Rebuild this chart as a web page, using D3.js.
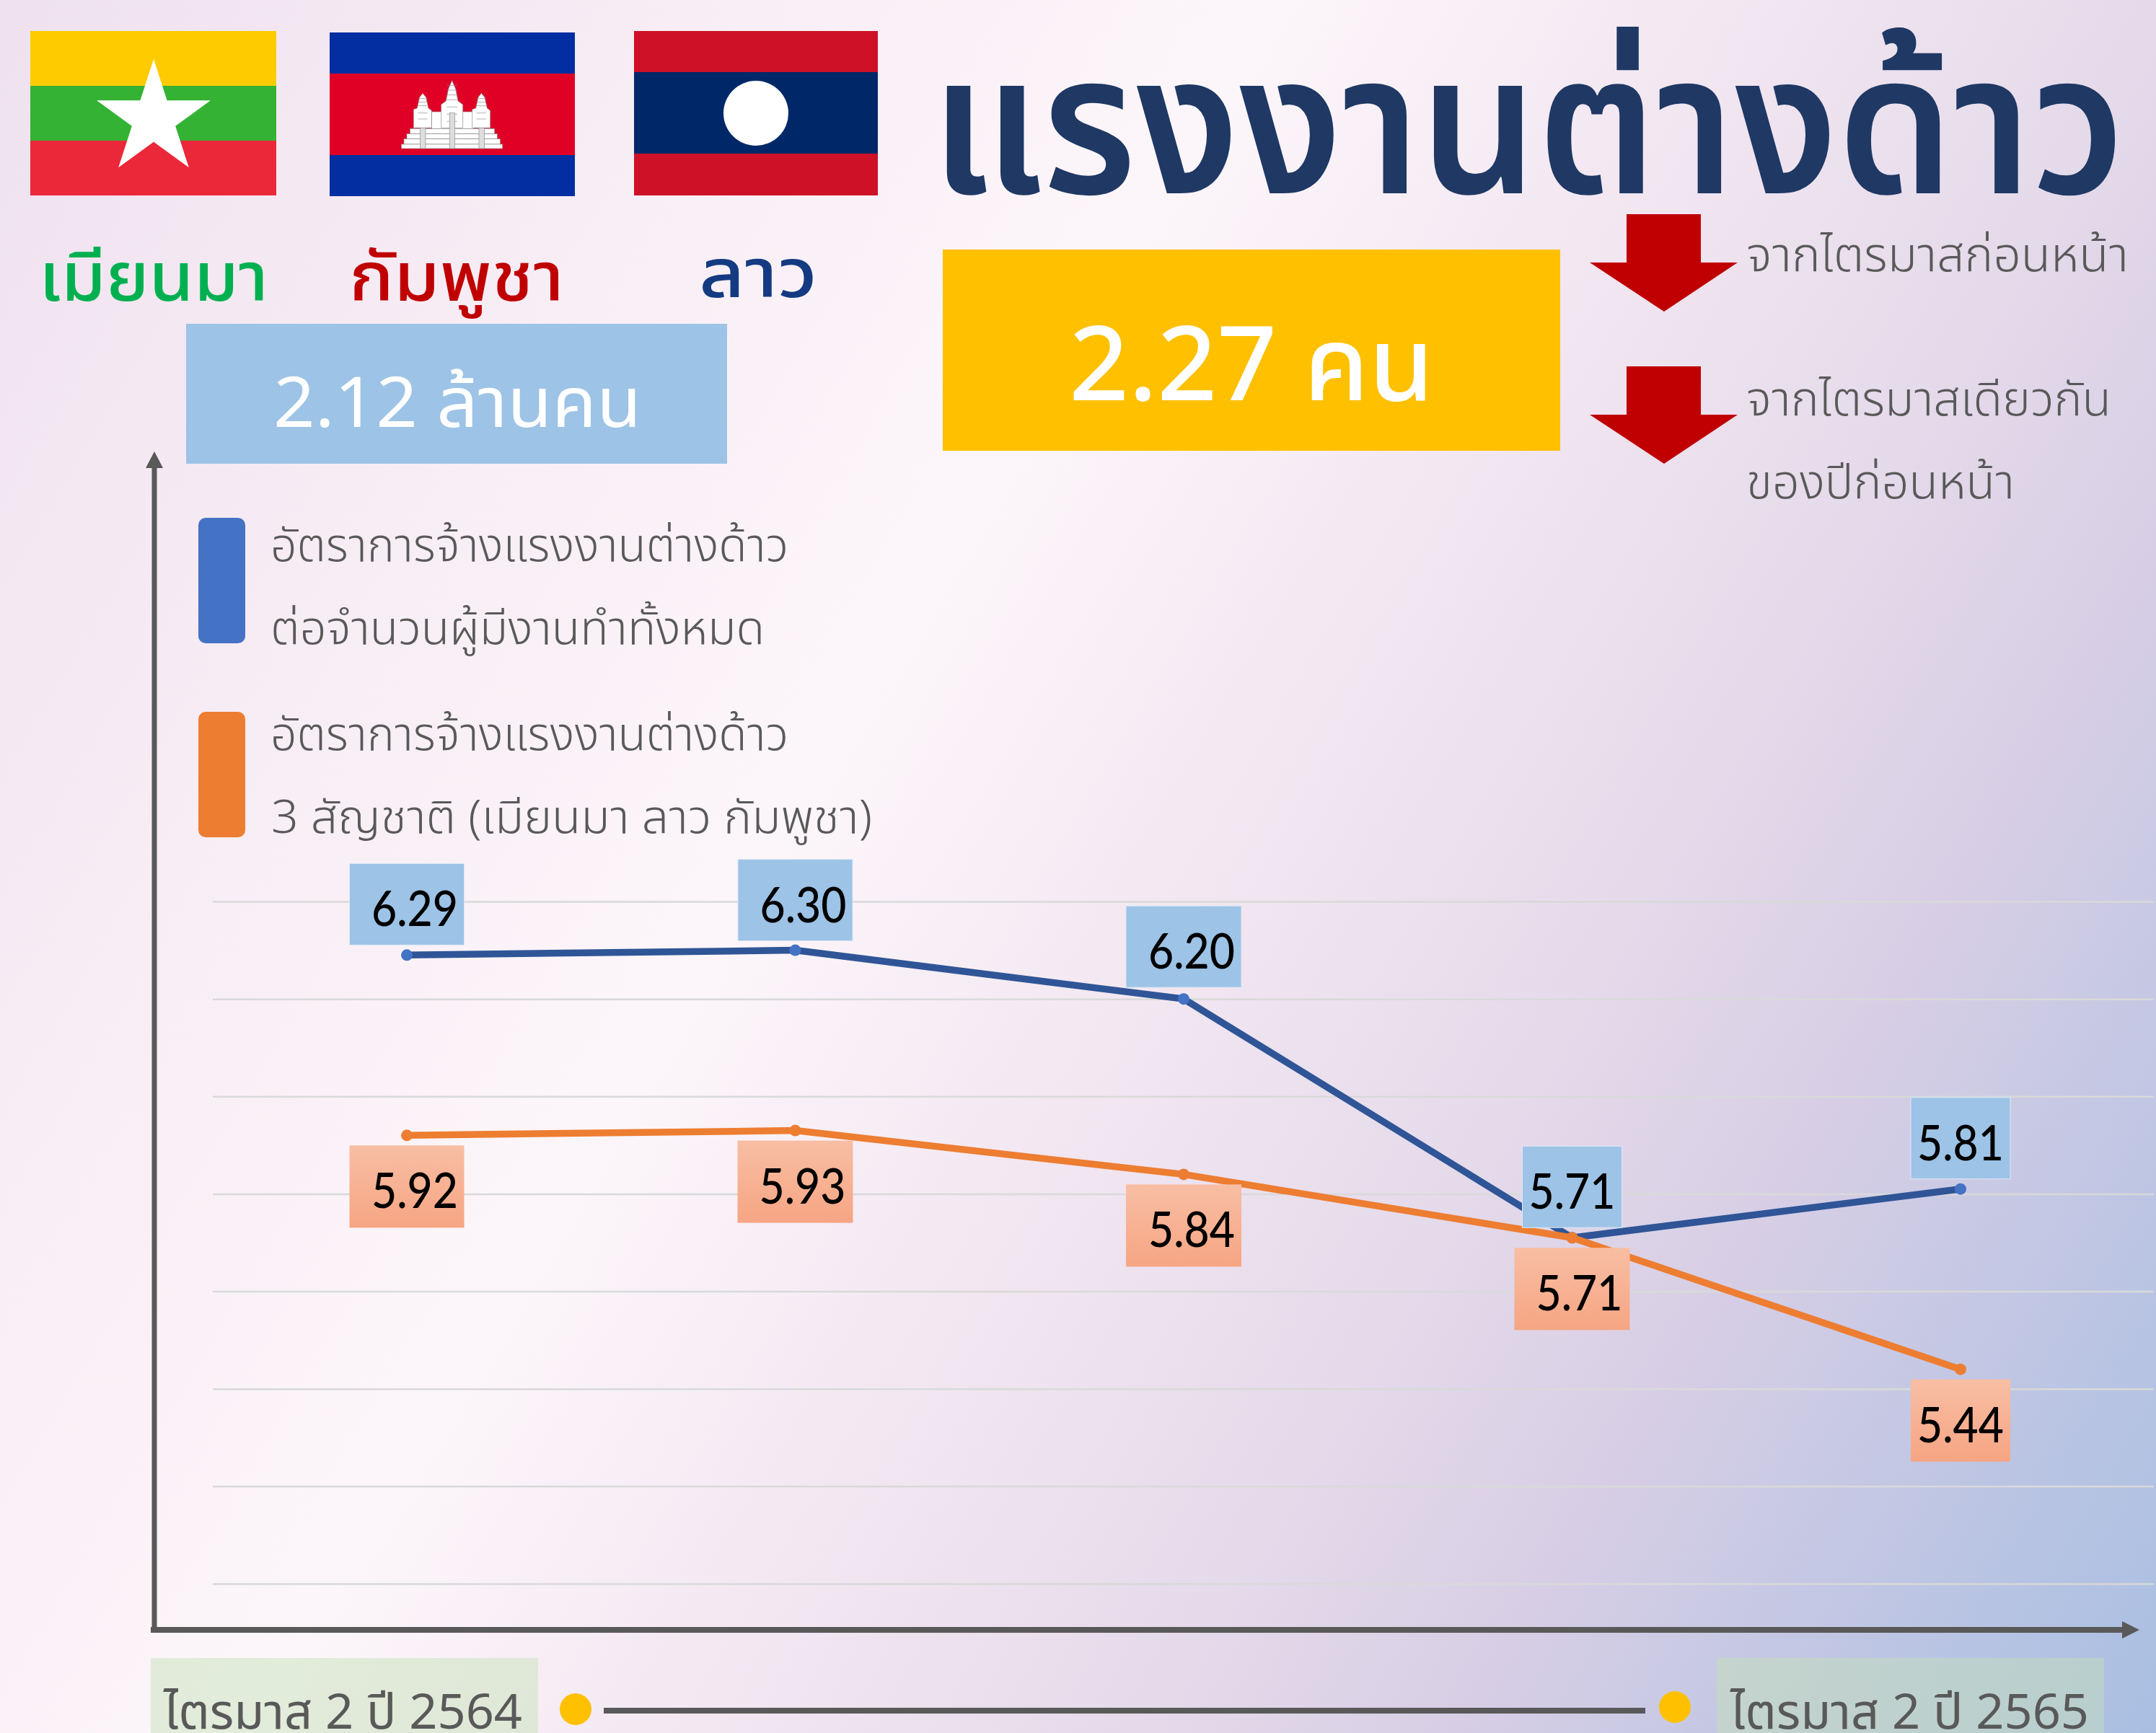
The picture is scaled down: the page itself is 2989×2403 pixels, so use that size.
<!DOCTYPE html>
<html>
<head>
<meta charset="utf-8">
<script src="https://cdn.jsdelivr.net/npm/d3@7"></script>
<style>
html,body{margin:0;padding:0;background:#fff;overflow:hidden}
svg{display:block}
</style>
</head>
<body>
<div id="chart"></div>
<script>
const quarters = ["ไตรมาส 2 ปี 2564","ไตรมาส 3 ปี 2564","ไตรมาส 4 ปี 2564","ไตรมาส 1 ปี 2565","ไตรมาส 2 ปี 2565"]
const allWorkers = [6.29,6.30,6.20,5.71,5.81]
const threeNations = [5.92,5.93,5.84,5.71,5.44]
const gridTicks = [6.4,6.2,6.0,5.8,5.6,5.4,5.2,5.0]

// label box widths + nudges, one per point
const blueBoxW = [159,159,160,138,138]
const blueTextDx = [11,11,11,0,0]
const blueBoxDy = [0,1,-2,0,0]
const orangeBoxW = [159,160,160,160,138]
const orangeTextDx = [11,10,11,10,0]
const orangeBoxDy = [0,0,0,0,0]

const W = 2989, H = 2403
const thai = "'Noto Sans Thai','Noto Sans','DejaVu Sans',sans-serif"
const grey = "#595959"

const svg = d3.select("#chart").append("svg").attr("width",W).attr("height",H)
const defs = svg.append("defs")

const bg = defs.append("linearGradient").attr("id","bg").attr("gradientUnits","userSpaceOnUse")
    .attr("x1",0).attr("y1",0).attr("x2",3267).attr("y2",1940)
;[[0,"#EFE1EF"],[.2,"#F7ECF4"],[.4,"#FCF6FA"],[.55,"#F2E6F1"],[.68,"#E5DAEA"],[.78,"#D7CEE5"],[.9,"#BCC5E3"],[1,"#A9BFE2"]].forEach(s=>{
    bg.append("stop").attr("offset",s[0]).attr("stop-color",s[1])
})
const og = defs.append("linearGradient").attr("id","og").attr("x1",0).attr("y1",0).attr("x2",0).attr("y2",1)
og.append("stop").attr("offset",0).attr("stop-color","#F8BEA3")
og.append("stop").attr("offset",1).attr("stop-color","#F6A583")

svg.append("rect").attr("width",W).attr("height",H).attr("fill","url(#bg)")

// text squeezed to the measured width
function label(parent,str,x,y,width,size,color,weight,family){
    return parent.append("text").text(str).attr("x",x).attr("y",y)
        .attr("font-family",family||thai).attr("font-size",size)
        .attr("font-weight",weight||400).attr("fill",color)
        .attr("textLength",width).attr("lengthAdjust","spacingAndGlyphs")
}
function stripes(g,x,w,bands){
    bands.forEach(b=>{
        g.append("rect").attr("x",x).attr("y",b[0]).attr("width",w).attr("height",b[1]-b[0]).attr("fill",b[2])
    })
}

// flags
const flags = svg.append("g").attr("id","flags")
stripes(flags,42,341,[[43,119,"#FECB00"],[119,195,"#34B233"],[195,271,"#EA2839"]])
flags.append("path").attr("d",d3.symbol(d3.symbolStar,7733)()).attr("transform","translate(213,165)").attr("fill","#fff")
stripes(flags,457,340,[[45,102,"#032EA1"],[102,215,"#E00025"],[215,272,"#032EA1"]])
stripes(flags,879,338,[[43,100,"#CE1126"],[100,213,"#002868"],[213,271,"#CE1126"]])
flags.append("circle").attr("cx",1048).attr("cy",157).attr("r",45).attr("fill","#fff")

// angkor wat, drawn in the 3x crop coords
const wat = flags.append("g").attr("transform","translate(520,90) scale(0.3333)")
    .attr("fill","#fff").attr("stroke","#8a8a8a").attr("stroke-width",2)
;[[235,410,195,265],[145,497,265,287],[132,508,287,308],[120,520,308,330],[110,530,330,348]].forEach(r=>{
    wat.append("rect").attr("x",r[0]).attr("width",r[1]-r[0]).attr("y",r[2]).attr("height",r[3]-r[2])
})
;[0,244].forEach(dx=>{
    wat.append("polygon").attr("points",[[198,118],[212,135],[222,180],[235,190],[235,262],[160,262],[160,185],[175,180],[185,135]].map(p=>[p[0]+dx,p[1]].join(",")).join(" "))
    ;[140,155,170,200,225].forEach(y=>{
        wat.append("line").attr("x1",178+dx).attr("x2",218+dx).attr("y1",y).attr("y2",y)
    })
    wat.append("rect").attr("x",188+dx).attr("y",262).attr("width",22).attr("height",86).attr("fill","#ddd")
})
wat.append("polygon").attr("points","320,65 335,100 345,150 365,165 365,262 275,262 275,165 295,150 305,100")
;[85,105,125,145,175,205,235].forEach(y=>{
    wat.append("line").attr("x1",298).attr("x2",342).attr("y1",y).attr("y2",y)
})
wat.append("rect").attr("x",310).attr("y",200).attr("width",22).attr("height",148).attr("fill","#ddd")

// country names, the blue box sits on top of the tail of พู
label(svg,"เมียนมา",54,417,318,94,"#00B050",500)
label(svg,"กัมพูชา",484,417,298,94,"#C00000",500)
label(svg,"ลาว",969,412,164,94,"#143B82",500)

svg.append("rect").attr("x",258).attr("y",449).attr("width",750).attr("height",194).attr("fill","#9DC3E6")
label(svg,"2.12 ล้านคน",379,592,510,97,"#fff")

label(svg,"แรงงานต่างด้าว",1290,268,1656,272,"#1F3864",600)

svg.append("rect").attr("x",1307).attr("y",346).attr("width",856).attr("height",279).attr("fill","#FFC000")
label(svg,"2.27 คน",1482,555,506,143,"#fff",500)

// red down arrows
;[297,508].forEach(top=>{
    svg.append("polygon").attr("fill","#C00000")
        .attr("points",[[2255,top],[2358,top],[2358,top+67],[2409,top+67],[2307,top+135],[2204,top+67],[2255,top+67]].map(p=>p.join(",")).join(" "))
})
label(svg,"จากไตรมาสก่อนหน้า",2421,376,530,66,grey,300)
label(svg,"จากไตรมาสเดียวกัน",2421,576,506,66,grey,300)
label(svg,"ของปีก่อนหน้า",2421,691,372,66,grey,300)

// scales
const xScale = d3.scalePoint().domain(quarters).range([564,2718])
const yScale = d3.scaleLinear().domain([5.0,6.4]).range([2196,1250])

const gridArea = svg.append("g").attr("transform","translate(295,0)")
    .call(d3.axisLeft(yScale).tickValues(gridTicks).tickSize(-2691).tickFormat(""))
gridArea.select(".domain").remove()
gridArea.selectAll("line").attr("stroke","#D9D9D9").attr("stroke-width",2.5)

// main axes with arrow heads
svg.append("line").attr("x1",214).attr("x2",214).attr("y1",645).attr("y2",2264).attr("stroke",grey).attr("stroke-width",7)
svg.append("polygon").attr("points","214,626 226,649 202,649").attr("fill",grey)
svg.append("line").attr("x1",209).attr("x2",2945).attr("y1",2260).attr("y2",2260).attr("stroke",grey).attr("stroke-width",8)
svg.append("polygon").attr("points","2966,2260 2942,2248 2942,2272").attr("fill",grey)

// legend
const legendRows = [
    {color:"#4472C4",y:718,lines:[["อัตราการจ้างแรงงานต่างด้าว",375,778,718],["ต่อจำนวนผู้มีงานทำทั้งหมด",375,893,685]]},
    {color:"#ED7D31",y:987,lines:[["อัตราการจ้างแรงงานต่างด้าว",375,1040,718],["3 สัญชาติ (เมียนมา ลาว กัมพูชา)",376,1155,833]]}
]
legendRows.forEach(r=>{
    svg.append("rect").attr("x",275).attr("y",r.y).attr("width",65).attr("height",174).attr("rx",10).attr("fill",r.color)
    r.lines.forEach(l=>label(svg,l[0],l[1],l[2],l[3],64,grey,300))
})

const line = d3.line().x(d=>xScale(d.q)).y(d=>yScale(d.v))
function drawSeries(values,stroke,dot){
    const pts = values.map((v,i)=>({q:quarters[i],v:v}))
    const g = svg.append("g")
    g.append("path").datum(pts).attr("d",line).attr("fill","none").attr("stroke",stroke).attr("stroke-width",9.5)
    g.selectAll("circle").data(pts).enter().append("circle")
        .attr("cx",d=>xScale(d.q)).attr("cy",d=>yScale(d.v)).attr("r",8).attr("fill",dot)
}
drawSeries(allWorkers,"#2F5597","#4472C4")
drawSeries(threeNations,"#ED7D31","#ED7D31")

// value boxes: blue above the point, orange below
function drawLabels(values,boxW,textDx,boxDy,above,fill,stroke){
    values.forEach((v,i)=>{
        const cx = xScale(quarters[i]), cy = yScale(v)
        const top = (above ? cy-14-113 : cy+14)+boxDy[i]
        svg.append("rect").attr("x",cx-boxW[i]/2).attr("y",top).attr("width",boxW[i]).attr("height",above?113:114)
            .attr("fill",fill).attr("stroke",stroke)
        label(svg,v.toFixed(2),cx+textDx[i]-60,top+87,120,68,"#000",500,"Lato")
    })
}
drawLabels(allWorkers,blueBoxW,blueTextDx,blueBoxDy,true,"#9DC3E6","#DCE9F6")
drawLabels(threeNations,orangeBoxW,orangeTextDx,orangeBoxDy,false,"url(#og)","none")

// time span under the axis
svg.append("rect").attr("x",209).attr("y",2299).attr("width",537).attr("height",104).attr("fill","#C5E0B4").attr("fill-opacity",.46)
svg.append("rect").attr("x",2380).attr("y",2299).attr("width",537).attr("height",104).attr("fill","#C5E0B4").attr("fill-opacity",.46)
label(svg,"ไตรมาส 2 ปี 2564",227,2397,497,68,grey)
label(svg,"ไตรมาส 2 ปี 2565",2399,2397,497,68,grey)
svg.append("line").attr("x1",837).attr("x2",2281).attr("y1",2372).attr("y2",2372).attr("stroke",grey).attr("stroke-width",8)
svg.append("circle").attr("cx",798).attr("cy",2370).attr("r",22).attr("fill","#FFC000")
svg.append("circle").attr("cx",2322).attr("cy",2367).attr("r",22).attr("fill","#FFC000")
</script>
</body>
</html>
